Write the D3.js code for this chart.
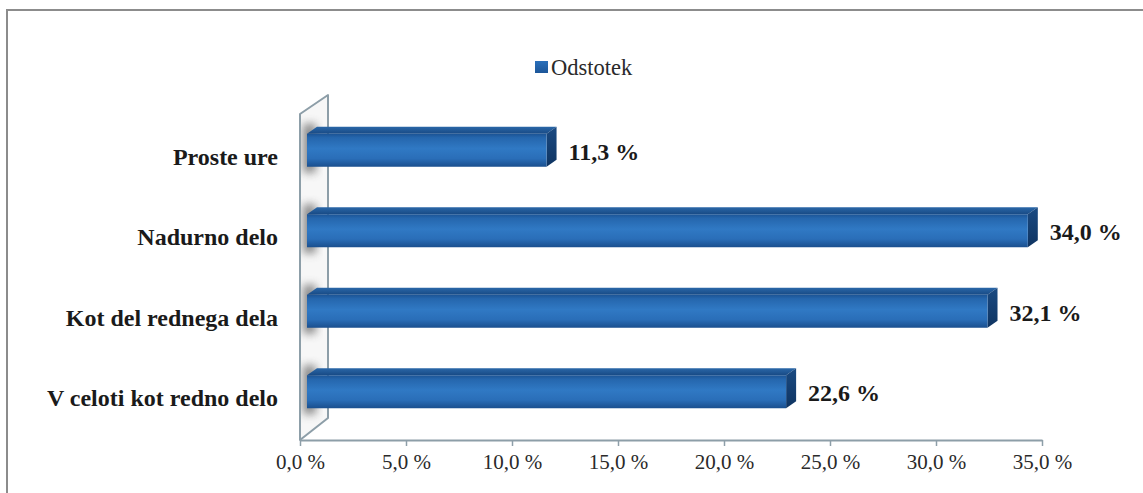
<!DOCTYPE html>
<html>
<head>
<meta charset="utf-8">
<script src="https://cdn.jsdelivr.net/npm/d3@7"></script>
<style>
  html, body { margin: 0; padding: 0; background: #fff; }
  svg { display: block; }
</style>
</head>
<body>
<script>
const categories = ["Proste ure", "Nadurno delo", "Kot del rednega dela", "V celoti kot redno delo"];
const values = [11.3, 34.0, 32.1, 22.6];
const tickValues = [0, 5, 10, 15, 20, 25, 30, 35];
const seriesName = "Odstotek";

const W = 1143, H = 493;
const svg = d3.select("body").append("svg").attr("width", W).attr("height", H);
const defs = svg.append("defs");
const serif = "'Liberation Serif', 'Times New Roman', serif";

const fmt = v => v.toFixed(1).replace(".", ",") + " %";

const x = d3.scaleLinear().domain([0, 35]).range([300, 1042]);
const y = d3.scalePoint().domain(categories).range([110, 432]).padding(0.5);
const barH = 33, dx = 10, dy = 7, off = 7;

// gradients
const gFront = defs.append("linearGradient").attr("id", "gFront").attr("x1", 0).attr("y1", 0).attr("x2", 0).attr("y2", 1);
[["0%", "#1b5394"], ["12%", "#2566ad"], ["45%", "#3079c4"], ["75%", "#2a6eb8"], ["100%", "#1a4f8e"]]
  .forEach(([o, c]) => gFront.append("stop").attr("offset", o).attr("stop-color", c));
const gTop = defs.append("linearGradient").attr("id", "gTop").attr("x1", 0).attr("y1", 0).attr("x2", 0).attr("y2", 1);
[["0%", "#2a67a8"], ["100%", "#184a85"]].forEach(([o, c]) => gTop.append("stop").attr("offset", o).attr("stop-color", c));
const gSide = defs.append("linearGradient").attr("id", "gSide").attr("x1", 0).attr("y1", 0).attr("x2", 0).attr("y2", 1);
[["0%", "#1a4a82"], ["100%", "#0f3461"]].forEach(([o, c]) => gSide.append("stop").attr("offset", o).attr("stop-color", c));
const gLeg = defs.append("linearGradient").attr("id", "gLeg").attr("x1", 0).attr("y1", 0).attr("x2", 0).attr("y2", 1);
[["0%", "#2a70bb"], ["100%", "#1c5699"]].forEach(([o, c]) => gLeg.append("stop").attr("offset", o).attr("stop-color", c));
defs.append("filter").attr("id", "blur").attr("x", "-50%").attr("y", "-50%").attr("width", "200%").attr("height", "200%")
  .append("feGaussianBlur").attr("stdDeviation", 4);

// outer frame (top & left only visible)
svg.append("path").attr("d", `M7,493 L7,10 L1143,10`).attr("fill", "none").attr("stroke", "#8c8c8c").attr("stroke-width", 2);

// wall (3D side wall)
const x0 = x(0), wx = 28, wy = 22, wallTop = 114, floorY = 440;
const wallPath = `M${x0},${floorY} L${x0},${wallTop} L${x0 + wx},${wallTop - wy + 3} L${x0 + wx},${floorY - wy} Z`;
defs.append("clipPath").attr("id", "wallClip").append("path").attr("d", wallPath);
svg.append("path").attr("d", wallPath).attr("fill", "#f7f7f7");
const shadows = svg.append("g").attr("clip-path", "url(#wallClip)");
shadows.selectAll("rect").data(categories).join("rect")
  .attr("x", x0 + 3).attr("width", 13)
  .attr("y", d => y(d) - barH / 2 - 10).attr("height", barH + 16)
  .attr("fill", "#777").attr("opacity", 0.85).attr("filter", "url(#blur)");
svg.append("path").attr("d", wallPath).attr("fill", "none").attr("stroke", "#8d9ea8").attr("stroke-width", 2).attr("stroke-linejoin", "round");

// bars
const bars = svg.append("g").selectAll("g").data(categories).join("g");
bars.each(function (c, i) {
  const g = d3.select(this);
  const xl = x(0) + off, xr = x(values[i]) + off;
  const yt = y(c) - barH / 2, yb = y(c) + barH / 2;
  g.append("path").attr("d", `M${xl},${yt} L${xl + dx},${yt - dy} L${xr + dx},${yt - dy} L${xr},${yt} Z`).attr("fill", "url(#gTop)");
  g.append("path").attr("d", `M${xr},${yt} L${xr + dx},${yt - dy} L${xr + dx},${yb - dy} L${xr},${yb} Z`).attr("fill", "url(#gSide)");
  g.append("rect").attr("x", xl).attr("y", yt).attr("width", xr - xl).attr("height", barH).attr("fill", "url(#gFront)");
  g.append("text").attr("x", xr + dx + 12).attr("y", y(c) + 1).attr("dy", "0.35em")
    .attr("font-family", serif).attr("font-weight", "bold")
    .attr("font-size", 24).attr("fill", "#1a1a1a").text(fmt(values[i]));
});

// category labels
svg.append("g").selectAll("text").data(categories).join("text")
  .attr("x", 278).attr("y", d => y(d) + 6).attr("dy", "0.35em").attr("text-anchor", "end")
  .attr("font-family", serif).attr("font-weight", "bold")
  .attr("font-size", 24).attr("fill", "#1a1a1a").text(d => d);

// x axis
const ax = svg.append("g").attr("transform", `translate(0,${floorY})`)
  .call(d3.axisBottom(x).tickValues(tickValues).tickFormat(fmt).tickSize(6).tickSizeOuter(0));
ax.select(".domain").attr("stroke", "#8d9ea8").attr("stroke-width", 2.2);
ax.selectAll(".tick line").attr("stroke", "#8d9ea8").attr("stroke-width", 1.5);
ax.selectAll(".tick text").attr("font-family", serif)
  .attr("font-size", 21).attr("fill", "#2a2a2a").attr("y", 14).attr("dy", "0.71em");

// legend
const leg = svg.append("g");
leg.append("rect").attr("x", 535).attr("y", 61).attr("width", 13).attr("height", 12).attr("fill", "url(#gLeg)");
leg.append("text").attr("x", 551).attr("y", 67).attr("dy", "0.35em")
  .attr("font-family", serif)
  .attr("font-size", 22.5).attr("fill", "#2a2a2a").text(seriesName);
</script>
</body>
</html>
